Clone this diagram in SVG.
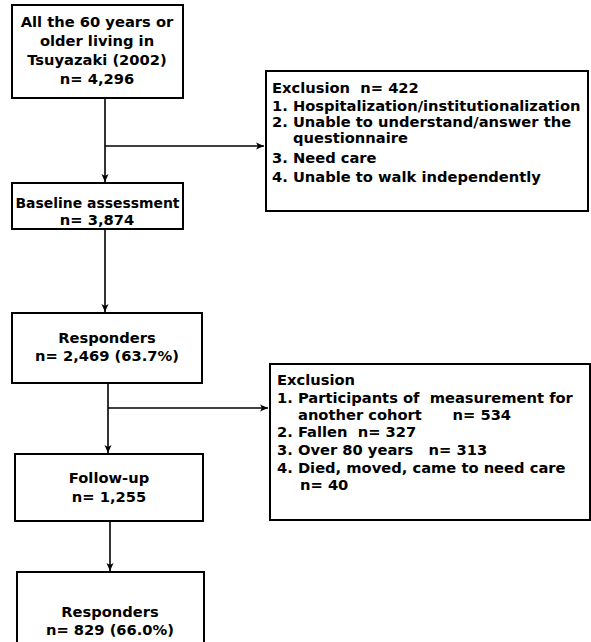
<svg xmlns="http://www.w3.org/2000/svg" width="591" height="642" viewBox="0 0 591 642" xml:space="preserve">
<defs>
<marker id="ah" markerWidth="10" markerHeight="10" refX="9" refY="5" orient="auto" markerUnits="userSpaceOnUse">
<path d="M1,1.5 L9,5 L1,8.5 L3,5 Z" fill="#000"/>
</marker>
<style>
.box{fill:#fff;stroke:#000;stroke-width:2}
.t{font-family:"DejaVu Sans","Liberation Sans",sans-serif;font-size:14.7px;font-weight:bold;fill:#000;white-space:pre}
.c{text-anchor:middle}
.ln{stroke:#000;stroke-width:1.6;fill:none}
</style>
</defs>
<rect width="591" height="642" fill="#fff"/>
<g id="connectors">
<path class="ln" d="M105,98 V182" marker-end="url(#ah)"/>
<path class="ln" d="M105,146 H264" marker-end="url(#ah)"/>
<path class="ln" d="M105,229 V312" marker-end="url(#ah)"/>
<path class="ln" d="M108,383 V453" marker-end="url(#ah)"/>
<path class="ln" d="M108,408 H268" marker-end="url(#ah)"/>
<path class="ln" d="M110,521 V571" marker-end="url(#ah)"/>
</g>
<g id="n1">
<rect class="box" x="12" y="5" width="171" height="93"/>
<text class="t c" x="97" y="27">All the 60 years or</text>
<text class="t c" x="97" y="46">older living in</text>
<text class="t c" x="97" y="65">Tsuyazaki (2002)</text>
<text class="t c" x="97" y="84">n= 4,296</text>
</g>
<g id="ex1">
<rect class="box" x="266" y="71" width="322" height="140"/>
<text class="t" x="272" y="93">Exclusion  n= 422</text>
<text class="t" x="272" y="111">1. Hospitalization/institutionalization</text>
<text class="t" x="272" y="127">2. Unable to understand/answer the</text>
<text class="t" x="293" y="143">questionnaire</text>
<text class="t" x="272" y="163">3. Need care</text>
<text class="t" x="272" y="182">4. Unable to walk independently</text>
</g>
<g id="n2">
<rect class="box" x="12" y="183" width="171" height="46"/>
<text class="t c" x="97.5" y="208" textLength="164" lengthAdjust="spacingAndGlyphs">Baseline assessment</text>
<text class="t c" x="97" y="225">n= 3,874</text>
</g>
<g id="n3">
<rect class="box" x="12" y="313" width="190" height="70"/>
<text class="t c" x="107" y="343">Responders</text>
<text class="t c" x="107" y="361">n= 2,469 (63.7%)</text>
</g>
<g id="ex2">
<rect class="box" x="270" y="364" width="320" height="156"/>
<text class="t" x="277" y="385">Exclusion</text>
<text class="t" x="277" y="403">1. Participants of  measurement for</text>
<text class="t" x="298" y="420">another cohort      n= 534</text>
<text class="t" x="277" y="437">2. Fallen  n= 327</text>
<text class="t" x="277" y="455">3. Over 80 years   n= 313</text>
<text class="t" x="277" y="473">4. Died, moved, came to need care</text>
<text class="t" x="300" y="490">n= 40</text>
</g>
<g id="n4">
<rect class="box" x="15" y="454" width="188" height="67"/>
<text class="t c" x="109" y="483">Follow-up</text>
<text class="t c" x="109" y="502">n= 1,255</text>
</g>
<g id="n5">
<rect class="box" x="17" y="572" width="187" height="80"/>
<text class="t c" x="110" y="617">Responders</text>
<text class="t c" x="110" y="635">n= 829 (66.0%)</text>
</g>
</svg>
